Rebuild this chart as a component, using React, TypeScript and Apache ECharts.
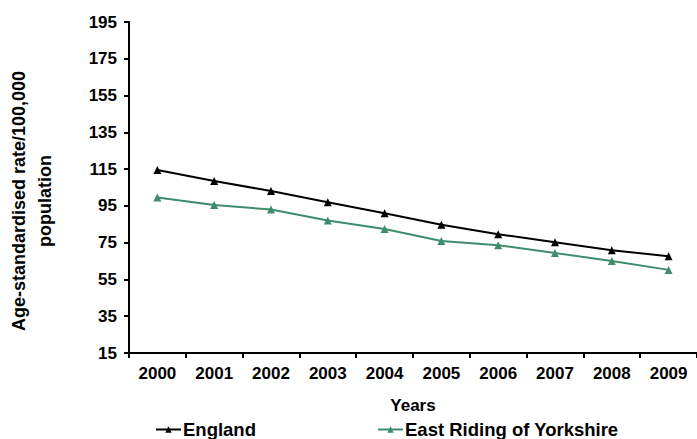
import React, { useEffect, useRef } from "react";
import * as echarts from "echarts";

const years = ["2000", "2001", "2002", "2003", "2004", "2005", "2006", "2007", "2008", "2009"];
const england = [114.5, 108.5, 103.1, 97, 91, 84.8, 79.6, 75.2, 70.9, 67.6];
const eastRiding = [99.6, 95.5, 93.0, 87, 82.4, 75.9, 73.6, 69.4, 65.0, 60.2];
const yTicks = { min: 15, max: 195, interval: 20 };

const FONT = "'Liberation Sans', Arial, sans-serif";
const GREEN = "#3e8c6c";

export default function App() {
  const ref = useRef<HTMLDivElement>(null);
  useEffect(() => {
    if (!ref.current) return;
    const chart = echarts.init(ref.current, undefined, { renderer: "svg" });
    const textStyle = { fontFamily: FONT, fontWeight: "bold" as const, fontSize: 17, color: "#000" };
    const legendText = { ...textStyle, fontSize: 18.5, lineHeight: 18, padding: [0, 0, 0, -3] };
    chart.setOption({
      animation: false,
      backgroundColor: "#fff",
      textStyle: { fontFamily: FONT },
      grid: { left: 129, right: 0, top: 22, bottom: 86, containLabel: false },
      legend: [
        {
          data: ["England"],
          left: 155,
          top: 420,
          padding: 0,
          itemWidth: 25,
          itemHeight: 8,
          itemGap: 0,
          textStyle: legendText,
        },
        {
          data: ["East Riding of Yorkshire"],
          left: 377,
          top: 420,
          padding: 0,
          itemWidth: 25,
          itemHeight: 8,
          itemGap: 0,
          textStyle: legendText,
        },
      ],
      xAxis: {
        type: "category",
        data: years,
        boundaryGap: true,
        name: "Years",
        nameLocation: "middle",
        nameGap: 44,
        nameTextStyle: textStyle,
        axisLine: { lineStyle: { color: "#000", width: 2 } },
        axisTick: { show: true, length: 5, lineStyle: { color: "#000", width: 2 } },
        axisLabel: { ...textStyle, margin: 12 },
        splitLine: { show: false },
      },
      yAxis: {
        type: "value",
        min: yTicks.min,
        max: yTicks.max,
        interval: yTicks.interval,
        axisLine: { show: true, lineStyle: { color: "#000", width: 2 } },
        axisTick: { show: true, length: 5, lineStyle: { color: "#000", width: 2 } },
        axisLabel: { ...textStyle, margin: 12 },
        splitLine: { show: false },
      },
      graphic: [
        {
          type: "text",
          x: 32,
          y: 201,
          rotation: Math.PI / 2,
          style: {
            text: "Age-standardised rate/100,000\npopulation",
            font: `bold 18px ${FONT}`,
            fill: "#000",
            align: "center",
            verticalAlign: "middle",
            lineHeight: 26,
          },
        },
      ],
      series: [
        {
          name: "England",
          type: "line",
          data: england,
          symbol: "triangle",
          symbolSize: 8,
          itemStyle: { color: "#000" },
          lineStyle: { color: "#000", width: 2 },
        },
        {
          name: "East Riding of Yorkshire",
          type: "line",
          data: eastRiding,
          symbol: "triangle",
          symbolSize: 8,
          itemStyle: { color: GREEN },
          lineStyle: { color: GREEN, width: 2 },
        },
      ],
    });
    return () => chart.dispose();
  }, []);
  return <div ref={ref} style={{ width: 697, height: 439, position: "absolute", left: 0, top: 0 }} />;
}
